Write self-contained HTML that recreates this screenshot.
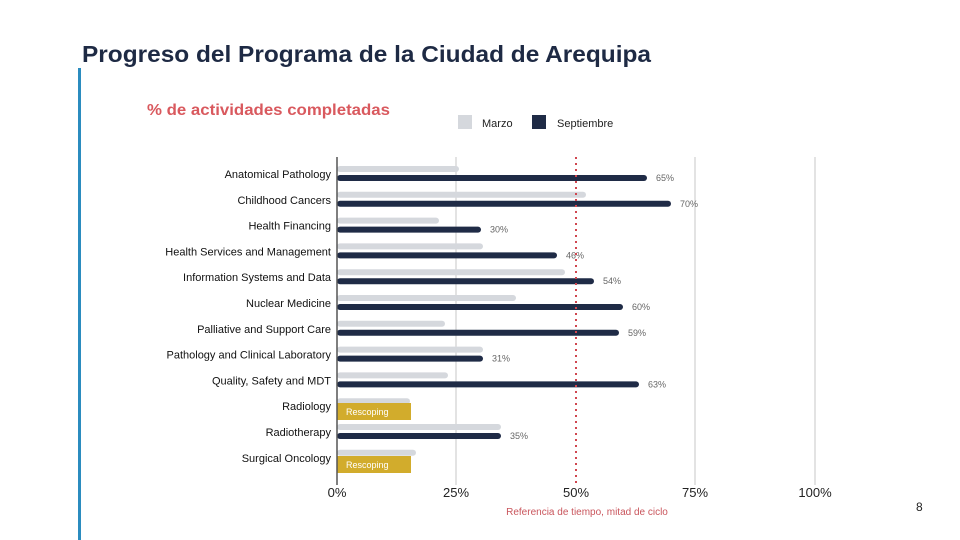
<!DOCTYPE html>
<html><head><meta charset="utf-8"><style>
body{margin:0;background:#fff;}
svg{display:block;font-family:"Liberation Sans","DejaVu Sans",sans-serif;}
</style></head><body>
<svg width="960" height="540" viewBox="0 0 960 540">
<rect width="960" height="540" fill="#fff"/>
<text x="82" y="62" font-size="23" font-weight="bold" fill="#1e2a44" textLength="569" lengthAdjust="spacingAndGlyphs">Progreso del Programa de la Ciudad de Arequipa</text>
<rect x="78" y="68" width="3" height="472" fill="#2b8cbf"/>
<text x="147" y="115" font-size="16" font-weight="bold" fill="#d9595e" textLength="243" lengthAdjust="spacingAndGlyphs">% de actividades completadas</text>
<rect x="458" y="115" width="14" height="14" fill="#d5d8dd"/>
<text x="482" y="127" font-size="11" fill="#222">Marzo</text>
<rect x="532" y="115" width="14" height="14" fill="#1f2b46"/>
<text x="557" y="127" font-size="11" fill="#222">Septiembre</text>
<g stroke="#d0d0d0" stroke-width="1.2">
<line x1="456" y1="157" x2="456" y2="485"/>
<line x1="695" y1="157" x2="695" y2="485"/>
<line x1="815" y1="157" x2="815" y2="485"/>
</g>
<g font-size="11" fill="#111" text-anchor="end">
<text x="331" y="178">Anatomical Pathology</text>
<text x="331" y="203.8">Childhood Cancers</text>
<text x="331" y="229.6">Health Financing</text>
<text x="331" y="255.4">Health Services and Management</text>
<text x="331" y="281.2">Information Systems and Data</text>
<text x="331" y="307">Nuclear Medicine</text>
<text x="331" y="332.8">Palliative and Support Care</text>
<text x="331" y="358.6">Pathology and Clinical Laboratory</text>
<text x="331" y="384.4">Quality, Safety and MDT</text>
<text x="331" y="410.2">Radiology</text>
<text x="331" y="436">Radiotherapy</text>
<text x="331" y="461.8">Surgical Oncology</text>
</g>
<g fill="#d5d8dd">
<rect x="337" y="166" width="122" height="6" rx="3"/>
<rect x="337" y="191.8" width="249" height="6" rx="3"/>
<rect x="337" y="217.6" width="102" height="6" rx="3"/>
<rect x="337" y="243.4" width="146" height="6" rx="3"/>
<rect x="337" y="269.2" width="228" height="6" rx="3"/>
<rect x="337" y="295" width="179" height="6" rx="3"/>
<rect x="337" y="320.8" width="108" height="6" rx="3"/>
<rect x="337" y="346.6" width="146" height="6" rx="3"/>
<rect x="337" y="372.4" width="111" height="6" rx="3"/>
<rect x="337" y="398.2" width="73" height="6" rx="3"/>
<rect x="337" y="424" width="164" height="6" rx="3"/>
<rect x="337" y="449.8" width="79" height="6" rx="3"/>
</g>
<g fill="#1f2b46">
<rect x="337" y="175" width="310" height="6" rx="3"/>
<rect x="337" y="200.8" width="334" height="6" rx="3"/>
<rect x="337" y="226.6" width="144" height="6" rx="3"/>
<rect x="337" y="252.4" width="220" height="6" rx="3"/>
<rect x="337" y="278.2" width="257" height="6" rx="3"/>
<rect x="337" y="304" width="286" height="6" rx="3"/>
<rect x="337" y="329.8" width="282" height="6" rx="3"/>
<rect x="337" y="355.6" width="146" height="6" rx="3"/>
<rect x="337" y="381.4" width="302" height="6" rx="3"/>
<rect x="337" y="433" width="164" height="6" rx="3"/>
</g>
<g font-size="9" fill="#666">
<text x="656" y="181">65%</text>
<text x="680" y="206.8">70%</text>
<text x="490" y="232.6">30%</text>
<text x="566" y="258.4">46%</text>
<text x="603" y="284.2">54%</text>
<text x="632" y="310">60%</text>
<text x="628" y="335.8">59%</text>
<text x="492" y="361.6">31%</text>
<text x="648" y="387.4">63%</text>
<text x="510" y="439">35%</text>
</g>
<rect x="337" y="403" width="74" height="17" fill="#d2ac2c"/>
<text x="346" y="415" font-size="9" fill="#fff">Rescoping</text>
<rect x="337" y="456" width="74" height="17" fill="#d2ac2c"/>
<text x="346" y="468" font-size="9" fill="#fff">Rescoping</text>
<line x1="337" y1="157" x2="337" y2="485" stroke="#555" stroke-width="1.5"/>
<line x1="576" y1="157" x2="576" y2="485" stroke="#d0464f" stroke-width="2" stroke-dasharray="2,4"/>
<g font-size="13" fill="#222" text-anchor="middle">
<text x="337" y="497">0%</text><text x="456" y="497">25%</text><text x="576" y="497">50%</text><text x="695" y="497">75%</text><text x="815" y="497">100%</text>
</g>
<text x="587" y="515" font-size="10" fill="#c9555c" text-anchor="middle">Referencia de tiempo, mitad de ciclo</text>
<text x="916" y="511" font-size="12" fill="#222">8</text>
</svg>
</body></html>
